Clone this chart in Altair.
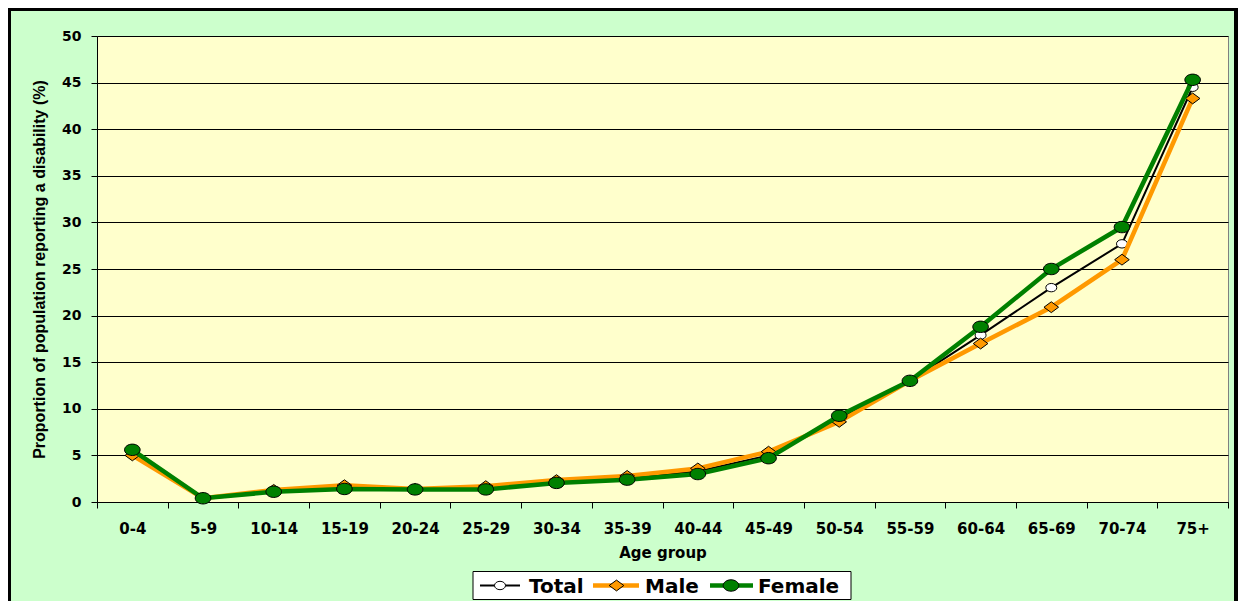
import altair as alt
import pandas as pd

# ---- data ----
ages = ["0-4", "5-9", "10-14", "15-19", "20-24", "25-29", "30-34", "35-39",
        "40-44", "45-49", "50-54", "55-59", "60-64", "65-69", "70-74", "75+"]
total = [5.3, 0.4, 1.2, 1.6, 1.4, 1.5, 2.15, 2.6, 3.3, 5.0, 8.9, 13.0, 17.9, 23.0, 27.7, 44.5]
male = [5.0, 0.4, 1.3, 1.8, 1.4, 1.7, 2.35, 2.8, 3.6, 5.4, 8.6, 13.0, 17.0, 20.9, 26.0, 43.3]
female = [5.6, 0.4, 1.1, 1.4, 1.35, 1.35, 2.05, 2.4, 3.0, 4.7, 9.25, 13.0, 18.8, 25.0, 29.5, 45.3]
y_ticks = [0, 5, 10, 15, 20, 25, 30, 35, 40, 45, 50]

series = {"Total": total, "Male": male, "Female": female}

W, H = 1131, 466


def ellipse(rx, ry):
    return f"M{-rx},0A{rx},{ry} 0 1 0 {rx},0A{rx},{ry} 0 1 0 {-rx},0Z"


def diamond(rx, ry):
    return f"M0,{-ry}L{rx},0L0,{ry}L{-rx},0Z"


style = {
    "Total": dict(line="#000000", width=2, fill="#FFFFFF", shape=ellipse(5.5, 4.2)),
    "Male": dict(line="#FF9900", width=4.5, fill="#FF9900", shape=diamond(7.3, 5.4)),
    "Female": dict(line="#008000", width=4.5, fill="#008000", shape=ellipse(7.8, 5.7)),
}

x_enc = alt.X(
    "age:N", sort=ages,
    scale=alt.Scale(type="band", paddingInner=0, paddingOuter=0),
    axis=alt.Axis(
        title="Age group", titleFont="DejaVu Sans", titleFontSize=15, titleFontWeight="bold",
        titleColor="black", titlePadding=9,
        labelFont="DejaVu Sans", labelFontSize=15, labelFontWeight="bold", labelColor="black",
        labelAngle=0, labelPadding=13, tickSize=6, tickColor="black", tickBand="extent",
        domainColor="black", grid=False,
    ),
)
y_enc = alt.Y(
    "value:Q",
    scale=alt.Scale(domain=[0, 50], nice=False),
    axis=alt.Axis(
        values=y_ticks, title="Proportion of population reporting a disability (%)",
        titleFont="Liberation Sans", titleFontSize=16, titleFontWeight="bold",
        titleColor="black", titlePadding=14,
        labelFont="DejaVu Sans", labelFontSize=14, labelFontWeight="bold", labelColor="black",
        labelPadding=10, tickSize=6, tickColor="black", domainColor="black",
        grid=True, gridColor="black", gridOpacity=1, gridWidth=1,
    ),
)

one = pd.DataFrame({"k": [0]})

layers = []
# outer frame
layers.append(
    alt.Chart(one).mark_rect(fill="#CCFFCC", fillOpacity=0, stroke="black", strokeWidth=4).encode(
        x=alt.value(-88), x2=alt.value(1139), y=alt.value(-27), y2=alt.value(640)
    )
)

for name, vals in series.items():
    df = pd.DataFrame({"age": ages, "value": vals, "series": name})
    st = style[name]
    layers.append(
        alt.Chart(df).mark_line(color=st["line"], strokeWidth=st["width"]).encode(x=x_enc, y=y_enc)
    )
    layers.append(
        alt.Chart(df).mark_point(
            shape=st["shape"], size=4, filled=True, fill=st["fill"], stroke="black",
            strokeWidth=1, opacity=1
        ).encode(x=x_enc, y=y_enc)
    )

# ---- legend (drawn by hand, Excel style) ----
ly = 549.5
layers.append(
    alt.Chart(one).mark_rect(fill="white", stroke="black", strokeWidth=1).encode(
        x=alt.value(376), x2=alt.value(754), y=alt.value(535.5), y2=alt.value(563.5)
    )
)
legend_items = [("Total", 383, 423, 403, 432), ("Male", 496, 542, 519.5, 548), ("Female", 613, 656, 634, 661)]
for name, lx1, lx2, mx, tx in legend_items:
    st = style[name]
    lab = pd.DataFrame({"label": [name]})
    layers.append(
        alt.Chart(one).mark_rule(color=st["line"], strokeWidth=st["width"]).encode(
            x=alt.value(lx1), x2=alt.value(lx2), y=alt.value(ly)
        )
    )
    layers.append(
        alt.Chart(one).mark_point(
            shape=st["shape"], size=4, filled=True, fill=st["fill"], stroke="black",
            strokeWidth=1, opacity=1
        ).encode(x=alt.value(mx), y=alt.value(ly))
    )
    layers.append(
        alt.Chart(lab).mark_text(
            align="left", baseline="middle", font="DejaVu Sans", fontSize=20,
            fontWeight="bold", color="black"
        ).encode(x=alt.value(tx), y=alt.value(ly + 1), text="label:N")
    )

chart = alt.layer(*layers).properties(
    width=W, height=H,
    background="#CCFFCC",
    padding={"left": 89, "top": 28, "right": 10, "bottom": 99},
    autosize=alt.AutoSizeParams(type="none"),
).configure_view(
    fill="#FFFFCC", stroke="#808080", strokeWidth=1
)

chart.save("out.html", embed_options={"renderer": "svg", "actions": False})
